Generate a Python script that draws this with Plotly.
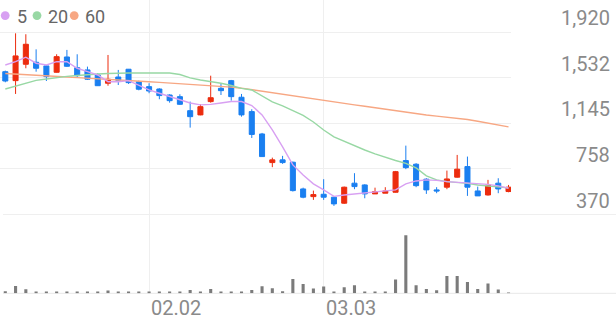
import plotly.graph_objects as go

# ---- data ----
day_index = list(range(50))
opens = [1583,1507,1646,1663,1632,1578,1708,1617,1598,1555,1485,1538,1604,1498,1456,1436,1385,1371,1252,1216,
         1329,1442,1507,1366,1244,1054,811,834,814,587,522,542,517,466,636,621,545,551,559,828,
         797,670,579,602,687,777,570,536,636,565]
highs = [1592,1909,1901,1773,1640,1731,1768,1731,1626,1570,1725,1598,1606,1507,1485,1442,1391,1391,1329,1306,
         1549,1485,1513,1394,1264,1063,853,868,819,598,573,670,522,607,721,627,598,602,740,955,
         806,678,602,743,876,862,607,664,678,621]
lows = [1493,1394,1612,1583,1504,1575,1623,1536,1513,1462,1464,1470,1479,1425,1400,1349,1320,1300,1108,1213,
        1320,1385,1337,1201,1020,859,772,800,565,508,494,494,443,460,585,508,545,551,556,755,
        602,545,551,585,683,528,528,531,551,559]
closes = [1504,1717,1816,1612,1541,1711,1629,1549,1519,1464,1519,1510,1490,1434,1419,1380,1337,1306,1201,1286,
          1362,1422,1371,1216,1050,862,834,811,573,517,539,517,460,602,607,545,565,570,734,768,
          615,579,570,672,755,602,528,621,587,602]
ma5 = [1640,1668,1706,1655,1640,1668,1668,1612,1583,1555,1498,1498,1507,1470,1428,1400,1371,1343,1317,1301,
       1305,1317,1330,1330,1296,1216,1088,944,791,706,630,579,524,536,545,549,562,570,579,630,
       655,664,660,649,643,636,636,626,613,593]
ma20 = [1436,1462,1487,1509,1521,1534,1543,1551,1559,1564,1568,1572,1572,1572,1571,1570,1572,1559,1530,1513,
        1500,1485,1466,1441,1428,1377,1326,1292,1254,1211,1156,1088,1029,991,952,918,885,855,829,804,
        766,698,664,649,643,634,621,613,604,596]
ma60 = [1568,1564,1559,1555,1548,1544,1538,1533,1527,1521,1516,1511,1507,1502,1497,1492,1487,1482,1476,1470,
        1464,1458,1452,1443,1430,1416,1403,1389,1374,1360,1347,1334,1325,1313,1301,1289,1276,1262,1250,1235,
        1223,1215,1206,1198,1188,1177,1162,1146,1130,1114]
volume = [20,73,40,17,13,13,13,13,13,13,27,13,10,10,10,10,10,10,33,10,
          43,10,10,13,33,70,50,20,143,93,47,67,17,60,80,17,13,13,137,580,
          80,43,30,173,173,113,43,97,37,7]
price_ticks = [370, 757.5, 1145, 1532.5, 1920]
price_tick_text = ["370", "758", "1,145", "1,532", "1,920"]
date_tick_pos = [14, 31]
date_tick_text = ["02.02", "03.03"]
ma_names = ["5", "20", "60"]

# ---- styling ----
W, H = 616, 321
RED = "#ec2c0e"
BLUE = "#1a7ff0"
MA_COLORS = ["#d8a0f2", "#98d8a4", "#f7a783"]
GRID = "#efefef"
LABEL = "#8a8a8a"
FONT = "Roboto"

plot_right = 511
vol_top, vol_bottom = 214.5, 293.3

fig = go.Figure()

for vals, col in zip([ma60, ma20, ma5], MA_COLORS[::-1]):
    fig.add_trace(go.Scatter(x=day_index, y=vals, mode="lines",
                             line=dict(color=col, width=1.4), hoverinfo="skip",
                             xaxis="x", yaxis="y"))

fig.add_trace(go.Candlestick(
    x=day_index, open=opens, high=highs, low=lows, close=closes,
    increasing=dict(line=dict(color=RED, width=1), fillcolor=RED),
    decreasing=dict(line=dict(color=BLUE, width=1), fillcolor=BLUE),
    whiskerwidth=0, xaxis="x", yaxis="y"))

fig.add_trace(go.Bar(x=day_index, y=volume, width=0.3, marker=dict(color="#7b7b7b", line=dict(width=0)),
                     xaxis="x2", yaxis="y2", hoverinfo="skip"))

xr = [-5.3 / 10.27, (plot_right - 5.3) / 10.27]
xdom = [0, plot_right / W]

fig.update_layout(
    width=W, height=H, margin=dict(l=0, r=0, t=0, b=0),
    paper_bgcolor="white", plot_bgcolor="white", showlegend=False,
    font=dict(family=FONT),
    boxgap=0.3, boxgroupgap=0.3,
    xaxis=dict(domain=xdom, range=xr, tickvals=date_tick_pos, showticklabels=False,
               showgrid=True, gridcolor=GRID, gridwidth=1, zeroline=False,
               showline=False, rangeslider=dict(visible=False), anchor="y"),
    yaxis=dict(domain=[(H - vol_top) / H, 1], range=[370, 2192], tickvals=price_ticks,
               showticklabels=False, showgrid=True, gridcolor=GRID, gridwidth=1, zeroline=False,
               anchor="x"),
    xaxis2=dict(domain=xdom, range=xr, tickvals=date_tick_pos, showticklabels=False,
                showgrid=True, gridcolor=GRID, gridwidth=1, zeroline=False,
                showline=False, anchor="y2", matches="x"),
    yaxis2=dict(domain=[(H - vol_bottom) / H, (H - vol_top) / H], range=[0, 788],
                showticklabels=False, showgrid=False, zeroline=False, anchor="x2"),
)

annotations = []
for v, t in zip(price_ticks, price_tick_text):
    annotations.append(dict(x=612 / W, xref="paper", xanchor="right", y=v, yref="y",
                            yanchor="middle", yshift=14, text=t, showarrow=False,
                            font=dict(family=FONT, size=20, color=LABEL)))
for p, t in zip(date_tick_pos, date_tick_text):
    annotations.append(dict(x=p, xref="x", xanchor="left", y=(H - 308) / H, yref="paper",
                            yanchor="middle", text=t, showarrow=False,
                            font=dict(family=FONT, size=20, color=LABEL)))

shapes = []
# full-width separator lines of the volume panel
for yy, col in [(vol_top, GRID), (vol_bottom, "#e8e8e8")]:
    shapes.append(dict(type="line", xref="paper", yref="paper", x0=3 / W, x1=1,
                       y0=(H - yy) / H, y1=(H - yy) / H, line=dict(color=col, width=1), layer="below"))

# legend: colored dots + labels
dot_cx = [5.2, 37.0, 74.2]
text_x = [14.8, 45.6, 82.8]
for cx, tx, name, col in zip(dot_cx, text_x, ma_names, MA_COLORS):
    r = 4.4
    cy = 15.6
    shapes.append(dict(type="circle", xref="paper", yref="paper",
                       x0=(cx - r) / W, x1=(cx + r) / W, y0=(H - cy - r) / H, y1=(H - cy + r) / H,
                       fillcolor=col, line=dict(width=0)))
    annotations.append(dict(x=tx / W, xref="paper", xanchor="left", y=(H - 16) / H, yref="paper",
                            yanchor="middle", text=name, showarrow=False,
                            font=dict(family=FONT, size=18, color="#666666")))

fig.update_layout(annotations=annotations, shapes=shapes)
fig.write_html("out.html")
